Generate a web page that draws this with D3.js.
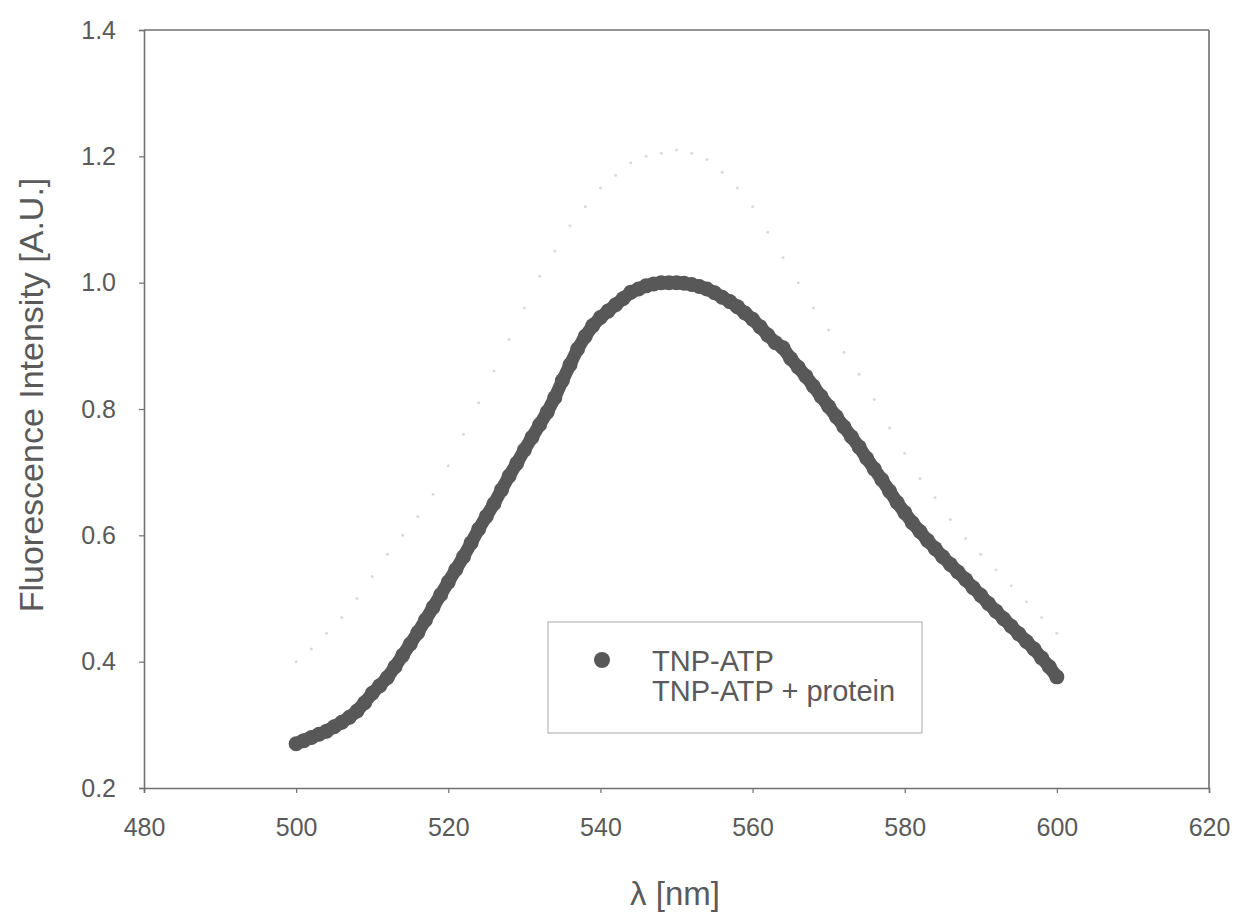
<!DOCTYPE html>
<html>
<head>
<meta charset="utf-8">
<script src="https://cdn.jsdelivr.net/npm/d3@7"></script>
<style>
  html, body { margin: 0; padding: 0; background: #fff; }
  svg { display: block; }
  text { font-family: "Liberation Sans", Arial, sans-serif; fill: #5a5a5a; }
</style>
</head>
<body>
<svg id="chart" width="1240" height="914"></svg>
<script>
// ---- data ----
const wavelengthMain = d3.range(500, 601, 1);
const tnpAtp = [
  0.270,0.275,0.280,0.285,0.290,0.297,0.304,0.312,0.322,0.335,
  0.350,0.362,0.375,0.392,0.410,0.428,0.446,0.466,0.486,0.506,
  0.526,0.546,0.566,0.588,0.610,0.630,0.650,0.672,0.694,0.714,
  0.735,0.755,0.775,0.795,0.818,0.845,0.870,0.895,0.915,0.932,
  0.945,0.955,0.965,0.975,0.985,0.990,0.995,0.998,1.000,1.000,
  1.000,0.999,0.997,0.994,0.990,0.984,0.977,0.970,0.962,0.952,
  0.942,0.930,0.917,0.905,0.897,0.880,0.866,0.852,0.836,0.820,
  0.804,0.788,0.772,0.756,0.740,0.722,0.705,0.688,0.670,0.652,
  0.636,0.620,0.606,0.592,0.579,0.566,0.554,0.542,0.530,0.517,
  0.505,0.492,0.480,0.468,0.456,0.444,0.432,0.420,0.406,0.392,
  0.376
];
const wavelengthProt = d3.range(500, 601, 2);
const tnpAtpProtein = [
  0.400,0.420,0.445,0.470,0.500,0.535,0.570,0.600,0.630,0.665,
  0.710,0.760,0.810,0.860,0.910,0.960,1.010,1.050,1.090,1.120,
  1.150,1.170,1.190,1.200,1.205,1.210,1.205,1.195,1.175,1.150,
  1.120,1.080,1.040,1.000,0.960,0.925,0.890,0.855,0.815,0.770,
  0.730,0.690,0.660,0.625,0.595,0.570,0.545,0.520,0.495,0.470,
  0.445
];
const xTicks = [480, 500, 520, 540, 560, 580, 600, 620];
const yTicks = [0.2, 0.4, 0.6, 0.8, 1.0, 1.2, 1.4];
const seriesNames = ["TNP-ATP", "TNP-ATP + protein"];

// ---- layout ----
const svg = d3.select("#chart");
const L = 144, R = 1209, T = 30, B = 788;
const x = d3.scaleLinear().domain([480, 620]).range([L, R]);
const y = d3.scaleLinear().domain([0.2, 1.4]).range([B, T]);
const axisColor = "#707070";
const markColor = "#585858";

// faint series (TNP-ATP + protein)
svg.append("g").selectAll("circle")
  .data(wavelengthProt.map((w, i) => [w, tnpAtpProtein[i]]))
  .join("circle")
  .attr("cx", d => x(d[0]))
  .attr("cy", d => y(d[1]))
  .attr("r", 1.5)
  .attr("fill", "#dadada");

// main series (TNP-ATP): dense dots forming a band
const mainPts = wavelengthMain.map((w, i) => [w, tnpAtp[i]]);
svg.append("path")
  .datum(mainPts)
  .attr("d", d3.line().x(d => x(d[0])).y(d => y(d[1])))
  .attr("fill", "none")
  .attr("stroke", markColor)
  .attr("stroke-width", 13)
  .attr("stroke-linecap", "round")
  .attr("stroke-linejoin", "round");
svg.append("g").selectAll("circle")
  .data(mainPts)
  .join("circle")
  .attr("cx", d => x(d[0]))
  .attr("cy", d => y(d[1]))
  .attr("r", 7.5)
  .attr("fill", markColor);

// axes
const xAxis = d3.axisBottom(x).tickValues(xTicks).tickSize(5).tickPadding(25).tickFormat(d3.format("d"));
const gx = svg.append("g").attr("transform", `translate(0,${B})`).call(xAxis);
const yAxis = d3.axisLeft(y).tickValues(yTicks).tickSize(5).tickPadding(23).tickFormat(d3.format(".1f"));
const gy = svg.append("g").attr("transform", `translate(${L},0)`).call(yAxis);
[gx, gy].forEach(g => {
  g.select(".domain").attr("stroke", axisColor).attr("stroke-width", 1.6);
  g.selectAll(".tick line").attr("stroke", axisColor).attr("stroke-width", 1.2);
  g.selectAll(".tick text").attr("fill", "#5a5a5a").style("font-size", "25px")
    .style("font-family", "'Liberation Sans', Arial, sans-serif");
});
// frame top & right
svg.append("line").attr("x1", L).attr("x2", R).attr("y1", T).attr("y2", T)
  .attr("stroke", axisColor).attr("stroke-width", 1.6);
svg.append("line").attr("x1", R).attr("x2", R).attr("y1", T).attr("y2", B)
  .attr("stroke", axisColor).attr("stroke-width", 1.6);

// axis titles
svg.append("text").attr("x", 675).attr("y", 905).attr("text-anchor", "middle")
  .style("font-size", "33px").text("λ [nm]");
svg.append("text").attr("transform", "translate(43,395) rotate(-90)").attr("text-anchor", "middle")
  .style("font-size", "34px").text("Fluorescence Intensity [A.U.]");

// legend
const lg = svg.append("g");
lg.append("rect").attr("x", 548).attr("y", 622).attr("width", 374).attr("height", 111)
  .attr("fill", "#fff").attr("stroke", "#a8a8a8").attr("stroke-width", 1);
lg.append("circle").attr("cx", 602).attr("cy", 660).attr("r", 8).attr("fill", markColor);
lg.selectAll("text.lab").data(seriesNames).join("text")
  .attr("class", "lab")
  .attr("x", 652).attr("y", (d, i) => 671 + i * 30)
  .style("font-size", "29px").text(d => d);
</script>
</body>
</html>
